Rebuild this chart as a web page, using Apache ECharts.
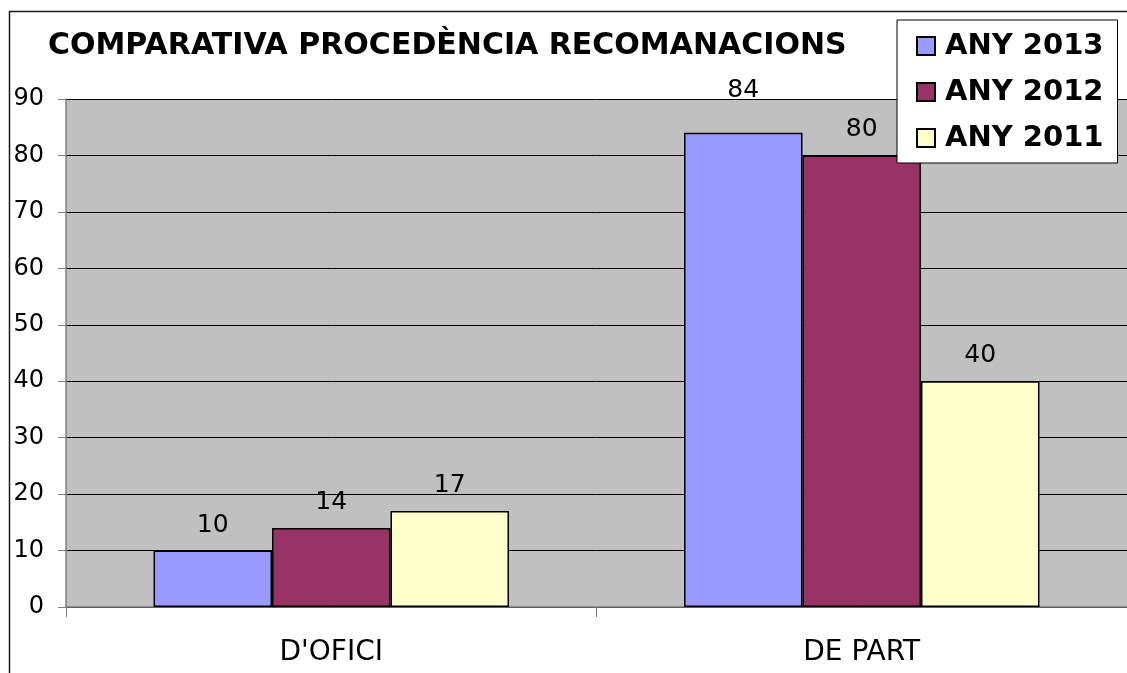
<!DOCTYPE html>
<html>
<head>
<meta charset="utf-8">
<script src="https://cdn.jsdelivr.net/npm/echarts@6/dist/echarts.min.js"></script>
<style>
  html, body { margin: 0; padding: 0; background: #fff; }
  #chart { width: 1127px; height: 673px; }
</style>
</head>
<body>
<div id="chart"></div>
<script>
// Recommendation origin, compared year by year
const categories = ["D'OFICI", "DE PART"];
const seriesNames = ["ANY 2013", "ANY 2012", "ANY 2011"];
const values2013 = [10, 84];
const values2012 = [14, 80];
const values2011 = [17, 40];
const yTicks = [0, 10, 20, 30, 40, 50, 60, 70, 80, 90];

const colors = ['#9999FF', '#993366', '#FFFFCC'];
const FONT = 'DejaVu Sans';

const chart = echarts.init(document.getElementById('chart'));

function barSeries(name, values, color, raisedIndex) {
  return {
    name: name,
    type: 'bar',
    barGap: '0%',
    barCategoryGap: '33%',
    itemStyle: { color: color, borderColor: '#000', borderWidth: 1.5 },
    label: {
      show: true,
      position: 'top',
      distance: 13,
      color: '#000',
      fontFamily: FONT,
      fontSize: 25
    },
    // the tallest bar's label sits a little higher, clear of the plot's top edge
    data: values.map((v, i) => i === raisedIndex ? { value: v, label: { distance: 30 } } : v)
  };
}

chart.setOption({
  animation: false,
  backgroundColor: '#fff',
  title: {
    text: 'COMPARATIVA PROCEDÈNCIA RECOMANACIONS',
    left: 48,
    top: 31,
    padding: 0,
    textStyle: { fontFamily: FONT, fontWeight: 'bold', fontSize: 30, color: '#000' }
  },
  legend: {
    orient: 'vertical',
    left: 897,
    top: 20,
    padding: [11, 14, 10, 19],
    itemGap: 16,
    itemWidth: 18,
    itemHeight: 18,
    icon: 'rect',
    backgroundColor: '#fff',
    borderColor: '#000',
    borderWidth: 1,
    data: seriesNames,
    textStyle: {
      fontFamily: FONT, fontWeight: 'bold', fontSize: 29, color: '#000',
      lineHeight: 30, padding: [0, 0, 0, 5]
    }
  },
  grid: {
    left: 66,
    top: 99,
    width: 1064,
    height: 508,
    show: true,
    backgroundColor: '#C0C0C0',
    borderWidth: 0
  },
  xAxis: {
    type: 'category',
    data: categories,
    axisLine: { lineStyle: { color: '#808080', width: 1.5 } },
    axisTick: { show: true, length: 10, lineStyle: { color: '#808080' } },
    axisLabel: { color: '#000', fontFamily: FONT, fontSize: 28, margin: 32 }
  },
  yAxis: {
    type: 'value',
    min: yTicks[0],
    max: yTicks[yTicks.length - 1],
    interval: yTicks[1] - yTicks[0],
    axisLine: { show: true, lineStyle: { color: '#808080', width: 1.5 } },
    axisTick: { show: true, length: 8, lineStyle: { color: '#808080' } },
    axisLabel: { color: '#000', fontFamily: FONT, fontSize: 24, margin: 22 },
    splitLine: { show: true, lineStyle: { color: '#000', width: 1 } }
  },
  graphic: [{
    type: 'rect',
    silent: true,
    z: 100,
    shape: { x: 9.5, y: 11.5, width: 1300, height: 800 },
    style: { fill: null, stroke: '#1a1a1a', lineWidth: 1.5 }
  }],
  series: [
    barSeries(seriesNames[0], values2013, colors[0], 1),
    barSeries(seriesNames[1], values2012, colors[1], -1),
    barSeries(seriesNames[2], values2011, colors[2], -1)
  ]
});
</script>
</body>
</html>
